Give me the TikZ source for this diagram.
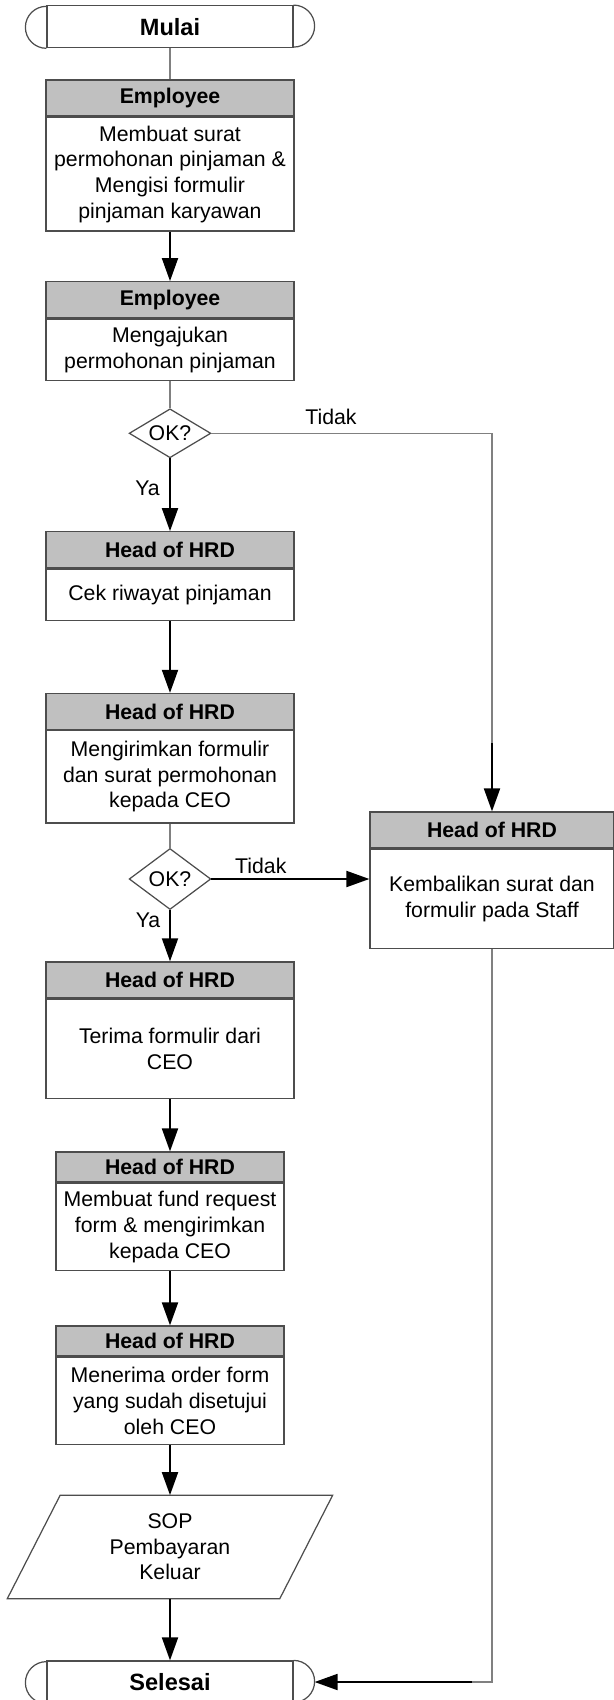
\documentclass[tikz,border=0pt]{standalone}
\usepackage{fontspec}
\setmainfont{Liberation Sans}
\usetikzlibrary{arrows.meta,positioning,shapes.geometric,calc}
\definecolor{hdrgray}{HTML}{C0C0C0}
\definecolor{edgegray}{HTML}{4D4D4D}
\definecolor{linegray}{HTML}{808080}

\begin{document}
\begin{tikzpicture}[
    txt/.style={font=\fontsize{12.1}{14.6}\selectfont},
    blk/.style={txt, draw=edgegray, line width=0.7pt, fill=white, align=center, inner sep=0pt,
                minimum width=4.96cm},
    hdr/.style={blk, fill=hdrgray, minimum height=0.72cm, font=\fontsize{12.1}{14.6}\selectfont\bfseries},
    term/.style={draw=edgegray, line width=0.7pt, inner sep=0pt, minimum width=4.92cm,
                 minimum height=0.84cm, font=\fontsize{13.4}{16}\selectfont\bfseries},
    dec/.style={txt, diamond, draw=edgegray, line width=0.7pt, fill=white, inner sep=0pt,
                aspect=1.67, minimum width=1.634cm, minimum height=0.98cm},
    io/.style={txt, align=center, inner sep=0pt, minimum width=5.436cm, minimum height=2.056cm},
    lbl/.style={txt, inner sep=0pt},
    arr/.style={-{Triangle[length=0.46cm, width=0.32cm]}, line width=1.1pt, black},
    conn/.style={linegray, line width=0.8pt}]
  \useasboundingbox (0,0) rectangle (12.28,-34);
  % start
  \node[term] (m) at (3.40,-0.534) {Mulai};
  \draw[edgegray, line width=0.7pt] (m.north east) arc[start angle=90, end angle=-90, radius=0.42cm];
  \draw[edgegray, line width=0.7pt] (m.south west) arc[start angle=270, end angle=90, radius=0.42cm];
  % employee
  \node[hdr] (h1) at (3.40,-1.96) {Employee};
  \node[blk, minimum height=2.274cm, below=0pt of h1] (b1) {Membuat surat\\permohonan pinjaman \&\\Mengisi formulir\\pinjaman karyawan};
  \node[hdr] (h2) at (3.40,-5.994) {Employee};
  \node[blk, minimum height=1.232cm, below=0pt of h2] (b2) {Mengajukan\\permohonan pinjaman};
  \node[dec] (d1) at (3.40,-8.666) {OK?};
  % head of hrd
  \node[hdr] (h3) at (3.40,-10.995) {Head of HRD};
  \node[blk, minimum height=1.032cm, below=0pt of h3] (b3) {Cek riwayat pinjaman};
  \node[hdr] (h4) at (3.40,-14.229) {Head of HRD};
  \node[blk, minimum height=1.844cm, below=0pt of h4] (b4) {Mengirimkan formulir\\dan surat permohonan\\kepada CEO};
  \node[dec, minimum height=1.22cm] (d2) at (3.40,-17.58) {OK?};
  \node[hdr, minimum width=4.88cm] (hR) at (9.84,-16.6) {Head of HRD};
  \node[blk, minimum width=4.88cm, minimum height=1.98cm, below=0pt of hR] (bR) {Kembalikan surat dan\\formulir pada Staff};
  \node[hdr] (h5) at (3.40,-19.598) {Head of HRD};
  \node[blk, minimum height=1.992cm, below=0pt of h5] (b5) {Terima formulir dari\\CEO};
  \node[hdr, minimum width=4.56cm, minimum height=0.60cm] (h6) at (3.40,-23.34) {Head of HRD};
  \node[blk, minimum width=4.56cm, minimum height=1.75cm, below=0pt of h6] (b6) {Membuat fund request\\form \& mengirimkan\\kepada CEO};
  \node[hdr, minimum width=4.56cm, minimum height=0.60cm] (h7) at (3.40,-26.82) {Head of HRD};
  \node[blk, minimum width=4.56cm, minimum height=1.75cm, below=0pt of h7] (b7) {Menerima order form\\yang sudah disetujui\\oleh CEO};
  % output and end
  \node[io] (sop) at (3.40,-30.938) {SOP\\Pembayaran\\Keluar};
  \draw[edgegray, line width=0.7pt] ($(sop.north west)+(0.529,0)$) -- ($(sop.north east)+(0.529,0)$)
    -- ($(sop.south east)-(0.529,0)$) -- ($(sop.south west)-(0.529,0)$) -- cycle;
  \node[term] (sel) at (3.40,-33.64) {Selesai};
  \draw[edgegray, line width=0.7pt] (sel.north east) arc[start angle=90, end angle=-90, radius=0.42cm];
  \draw[edgegray, line width=0.7pt] (sel.south west) arc[start angle=270, end angle=90, radius=0.42cm];
  % labels
  \node[lbl] (t1) at (6.62,-8.34) {Tidak};
  \node[lbl] (t2) at (5.216,-17.32) {Tidak};
  \node[lbl] (y1) at (2.95,-9.772) {Ya};
  \node[lbl] (y2) at (2.96,-18.40) {Ya};
  \coordinate (c1) at (hR.north |- d1.east);
  \coordinate (c2) at (9.84,-14.86);
  \coordinate (c3) at (9.44,-33.64);
  \coordinate (selR) at ($(sel.east)+(0.42,0)$);
  % connectors
  \foreach \a/\b in {m/h1,b2/d1,b4/d2} {\draw[conn] (\a.south) -- (\b.north);}
  \foreach \a/\b in {b1/h2,d1/h3,b3/h4,d2/h5,b5/h6,b6/h7,b7/sop,sop/sel} {\draw[arr] (\a.south) -- (\b.north);}
  \draw[conn] (d1.east) -- (c1) -- (c2); \draw[arr] (c2) -- (hR.north);
  \draw[arr] (d2.east) -- (d2.east -| bR.west);
  \draw[conn] (bR.south) -- (bR.south |- c3) -- (c3); \draw[arr] (c3) -- (selR);
\end{tikzpicture}
\end{document}
